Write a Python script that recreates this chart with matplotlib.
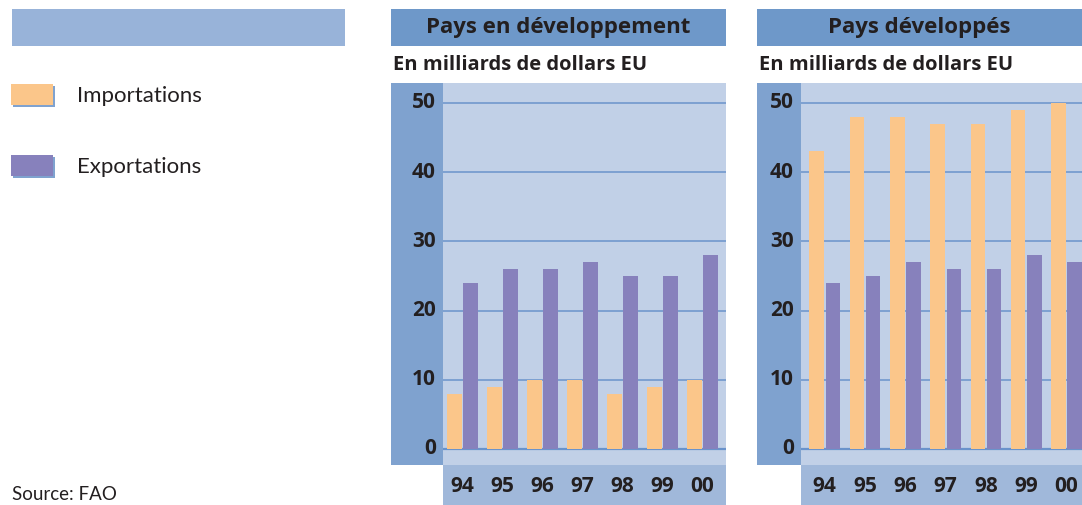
import matplotlib
matplotlib.use("Agg")
import matplotlib.pyplot as plt
from matplotlib.patches import Rectangle
import numpy as np

# Trade values, billions of US dollars
years = ["94", "95", "96", "97", "98", "99", "00"]
dev_imports = [8, 9, 10, 10, 8, 9, 10]
dev_exports = [24, 26, 26, 27, 25, 25, 28]
ind_imports = [43, 48, 48, 47, 47, 49, 50]
ind_exports = [24, 25, 27, 26, 26, 28, 27]
y_ticks = [0, 10, 20, 30, 40, 50]

W, H = 1082, 505
C_IMP = "#fbc68a"
C_EXP = "#8781bc"
C_PLOT = "#c1d0e7"
C_YCOL = "#7fa2cf"
C_XBAND = "#a0b8da"
C_TITLE = "#6e98c9"
C_LEGBAND = "#98b3d9"
C_GRID = "#6a93cb"
C_TEXT = "#231f20"

BOLD = ["Open Sans", "DejaVu Sans"]
LIGHT = ["Lato", "DejaVu Sans"]

fig = plt.figure(figsize=(W / 100, H / 100), dpi=100)
fig.patch.set_facecolor("white")


def rect(x0, y0, x1, y1, color, z=0):
    """Rectangle given in pixel coords measured from the top-left corner."""
    fig.patches.append(Rectangle((x0 / W, 1 - y1 / H), (x1 - x0) / W, (y1 - y0) / H,
                                 transform=fig.transFigure, facecolor=color,
                                 edgecolor="none", zorder=z))


def fx(x):
    return x / W


def fy(y):
    return 1 - y / H


# Legend column
rect(12, 9, 345, 46, C_LEGBAND)
for (ytop, col, label) in [(84, C_IMP, "Importations"), (155, C_EXP, "Exportations")]:
    rect(13, ytop + 2, 55, ytop + 23, C_YCOL, z=1)
    rect(11, ytop, 53, ytop + 21, col, z=2)
    fig.text(fx(77), fy(ytop + 12), label, family=LIGHT, fontsize=16,
             color=C_TEXT, va="center", ha="left")
fig.text(fx(12), fy(503), "Source: FAO", family=LIGHT, fontsize=13.5,
         color=C_TEXT, va="bottom", ha="left")

PX_PER_UNIT = (449 - 103) / 50.0


def panel(x_col, x_plot, x_end, x_first, spacing, title, imports, exports):
    top, zero, bottom = 83, 449, 465
    # title band and unit caption
    rect(x_col, 9, x_end, 46, C_TITLE)
    fig.text(fx((x_col + x_end) / 2), fy(28), title, family=BOLD, fontsize=16,
             fontweight="bold", color=C_TEXT, ha="center", va="center")
    fig.text(fx(x_col + 2), fy(65), "En milliards de dollars EU", family=BOLD,
             fontsize=14.5, fontweight="bold", color=C_TEXT, ha="left", va="center")
    # value-axis column and year band
    rect(x_col, top, x_plot, bottom, C_YCOL)
    rect(x_plot, bottom, x_end, H, C_XBAND)

    ax = fig.add_axes([fx(x_plot), fy(bottom), (x_end - x_plot) / W, (bottom - top) / H])
    ax.set_facecolor(C_PLOT)
    ax.set_ylim(-(bottom - zero) / PX_PER_UNIT, 50 + (103 - top) / PX_PER_UNIT)
    ax.set_xlim((x_plot - x_first) / spacing, (x_end - x_first) / spacing)
    for s in ax.spines.values():
        s.set_visible(False)
    ax.set_xticks([])
    ax.set_yticks([])
    for t in y_ticks:
        ax.axhline(t, color=C_GRID, lw=1.6 if t == 0 else 1.1, zorder=1)
    x = np.arange(len(years))
    ax.bar(x - 0.2, imports, width=0.36, color=C_IMP, zorder=2)
    ax.bar(x + 0.2, exports, width=0.36, color=C_EXP, zorder=2)

    # tick labels
    for t in y_ticks:
        fig.text(fx(x_plot - 7), fy(zero - t * PX_PER_UNIT), str(t), family=BOLD,
                 fontsize=15, fontweight="bold", color=C_TEXT, ha="right", va="center")
    for i, yr in enumerate(years):
        fig.text(fx(x_first + i * spacing), fy(487), yr, family=BOLD, fontsize=15,
                 fontweight="bold", color=C_TEXT, ha="center", va="center")


panel(391, 443, 726, 462.5, 40.0, "Pays en développement", dev_imports, dev_exports)
panel(757, 801, 1082, 824.8, 40.3, "Pays développés", ind_imports, ind_exports)

fig.savefig("out.png", dpi=100)
